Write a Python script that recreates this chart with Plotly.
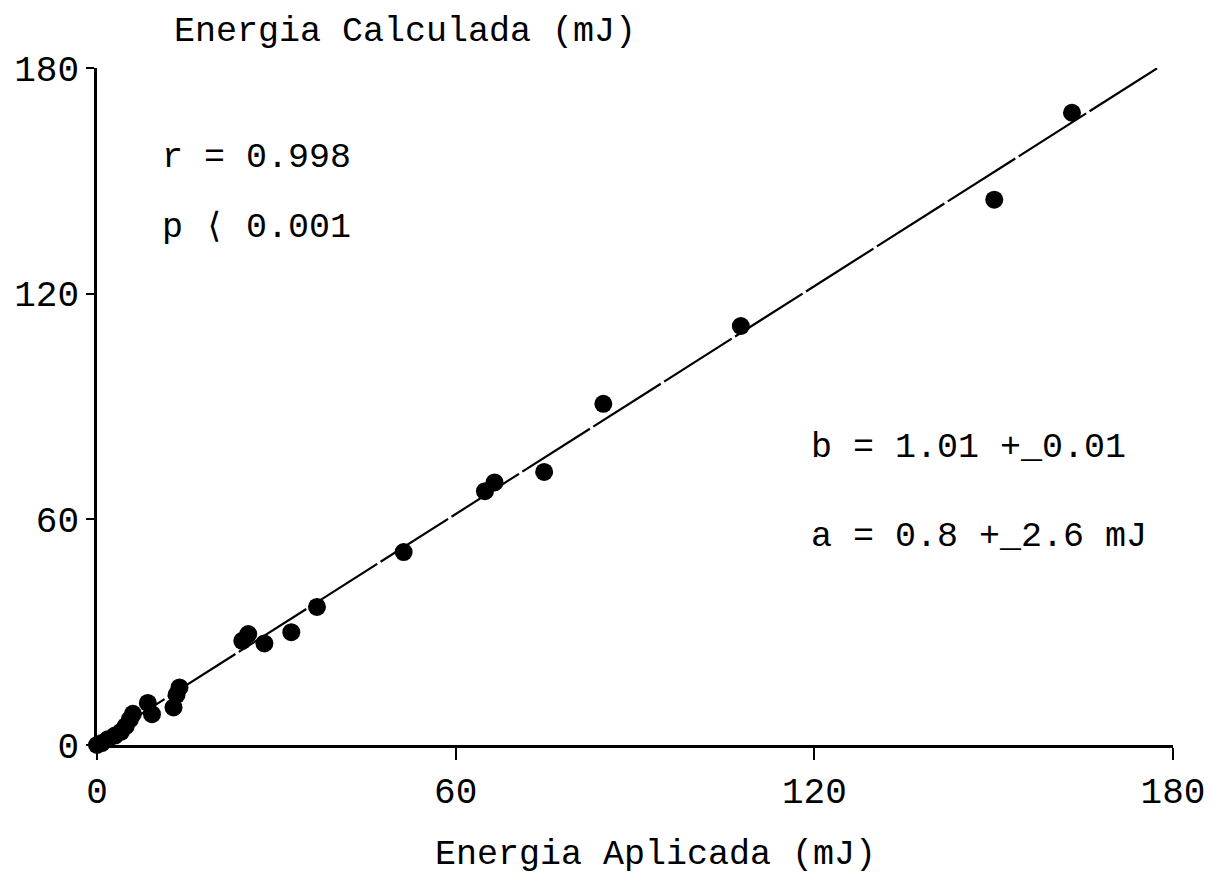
import plotly.graph_objects as go

# Applied vs. calculated energy (mJ)
energia_aplicada = [0, 0.8, 1.8, 3.0, 4.0, 4.8, 5.5, 6.0, 8.5, 9.2, 12.8, 13.3, 13.8,
                    24.3, 25.3, 28.0, 32.5, 36.8, 51.3, 64.9, 66.5, 74.8, 84.7,
                    107.7, 150.1, 163.1]
energia_calculada = [0, 0.5, 1.5, 2.5, 3.5, 5.0, 6.8, 8.3, 11.2, 8.2, 10.0, 13.3, 15.3,
                     27.7, 29.5, 27.0, 30.0, 36.7, 51.3, 67.5, 69.8, 72.6, 90.7,
                     111.4, 145.0, 168.1]

# Regression parameters: y = a + b x
pendiente_b = 1.01
ordenada_a = 0.8

eje_max = 180
tick_vals = [0, 60, 120, 180]

FONT = "Liberation Mono, Courier New, monospace"

x_fin = (eje_max - ordenada_a) / pendiente_b
recta_x = [0, x_fin]
recta_y = [ordenada_a + pendiente_b * v for v in recta_x]

fig = go.Figure()
fig.add_trace(go.Scatter(
    x=recta_x, y=recta_y, mode="lines",
    line=dict(color="black", width=2.2, dash="80px,4px"),
    hoverinfo="skip", showlegend=False,
))
fig.add_trace(go.Scatter(
    x=energia_aplicada, y=energia_calculada, mode="markers",
    marker=dict(color="black", size=18, line=dict(width=0)),
    cliponaxis=False, showlegend=False,
))

axis_common = dict(
    range=[0, eje_max], tickvals=tick_vals, ticktext=[str(v) for v in tick_vals],
    showgrid=False, zeroline=False, showline=True, linecolor="black", linewidth=2.5,
    ticks="outside", tickcolor="black", tickwidth=2, automargin=False,
    tickfont=dict(family=FONT, size=36, color="black"),
)
fig.update_xaxes(**axis_common, ticklen=12)
fig.update_yaxes(**axis_common, ticklen=8)

def texto(s, x, y, anchor="left", size=35):
    fig.add_annotation(text=s, x=x, y=y, xref="paper", yref="paper",
                       xanchor=anchor, yanchor="middle", showarrow=False,
                       font=dict(family=FONT, size=size, color="black"))

texto("Energia Calculada (mJ)", 0.0697, 1.053)
texto("Energia Aplicada (mJ)", 0.5186, -0.1625, anchor="center")
texto("r = 0.998", 0.0586, 0.867)
texto("p ⟨ 0.001", 0.0586, 0.7637)
texto("b = 1.01 +_0.01", 0.662, 0.4387)
texto("a = 0.8 +_2.6 mJ", 0.662, 0.3072)

fig.update_layout(
    width=1212, height=874,
    margin=dict(l=97, r=39, t=68, b=129, autoexpand=False),
    plot_bgcolor="white", paper_bgcolor="white",
    font=dict(family=FONT, color="black"),
)

fig.write_html("out.html")
